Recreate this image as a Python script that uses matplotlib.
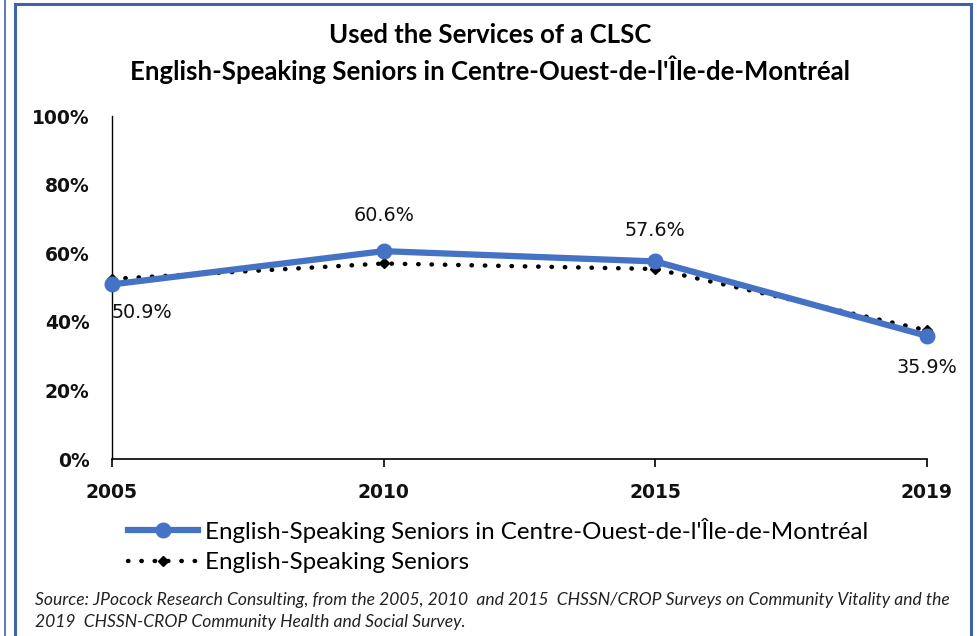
import matplotlib.pyplot as plt
from matplotlib.patches import Rectangle
from matplotlib.lines import Line2D
from matplotlib.ticker import PercentFormatter

plt.rcParams['font.family'] = ['Lato', 'DejaVu Sans']

years = ['2005', '2010', '2015', '2019']
montreal_co = [0.509, 0.606, 0.576, 0.359]
all_seniors = [0.525, 0.570, 0.554, 0.375]
label_montreal = "English-Speaking Seniors in Centre-Ouest-de-l'Île-de-Montréal"
label_all = 'English-Speaking Seniors'

fig = plt.figure(figsize=(9.77, 6.36), dpi=100)
ax = fig.add_axes([0.1146, 0.2783, 0.8342, 0.5393])

dots = (0, (0.1, 2.9))
x = list(range(len(years)))
ax.plot(x, all_seniors, color='black', linestyle=dots, linewidth=3.2,
        dash_capstyle='round', marker='D', markersize=5, clip_on=False, zorder=2)
ax.plot(x, montreal_co, color='#4472C4', linewidth=4.5, marker='o', markersize=10.5,
        clip_on=False, zorder=3)

# data labels (offsets in points)
offsets = [(0, -20, 'left'), (0, 26, 'center'), (0, 22, 'center'), (0, -23, 'center')]
for i, v in enumerate(montreal_co):
    dx, dy, ha = offsets[i]
    ax.annotate(f'{v*100:.1f}%', (x[i], v), xytext=(dx, dy), textcoords='offset points',
                ha=ha, va='center', fontsize=13.8, color='#111111', family='DejaVu Sans')

ax.set_xlim(0, 3)
ax.set_ylim(0, 1)
ax.set_xticks(x)
ax.set_xticklabels(years)
ax.set_yticks([0, 0.2, 0.4, 0.6, 0.8, 1.0])
ax.yaxis.set_major_formatter(PercentFormatter(1.0, decimals=0))
for lbl in ax.get_xticklabels() + ax.get_yticklabels():
    lbl.set_fontweight('bold')
    lbl.set_fontsize(13.5)
    lbl.set_family('DejaVu Sans')
    lbl.set_color('#111111')
ax.tick_params(axis='x', direction='out', length=6, width=1.2, pad=11)
ax.tick_params(axis='y', length=0, pad=16)
ax.spines['top'].set_visible(False)
ax.spines['right'].set_visible(False)
ax.spines['left'].set_linewidth(1)
ax.spines['bottom'].set_linewidth(1.2)

fig.text(0.502, 0.945, 'Used the Services of a CLSC', ha='center', va='center',
         fontsize=18.5, fontweight='bold')
fig.text(0.502, 0.890, label_montreal, ha='center', va='center',
         fontsize=18.5, fontweight='bold')

handles = [
    Line2D([], [], color='#4472C4', linewidth=4.5, marker='o', markersize=10.5),
    Line2D([], [], color='black', linestyle=dots, linewidth=3.2,
           dash_capstyle='round', marker='D', markersize=5),
]
fig.legend(handles, [label_montreal, label_all], loc='upper left',
           bbox_to_anchor=(0.131, 0.186), frameon=False,
           fontsize=17.4, handlelength=2.9, handletextpad=0.3, labelspacing=0.4,
           borderaxespad=0, borderpad=0)

fig.text(0.036, 0.057, 'Source: JPocock Research Consulting, from the 2005, 2010  and 2015  CHSSN/CROP Surveys on Community Vitality and the',
         fontsize=12.6, style='italic', color='#222222', va='center')
fig.text(0.036, 0.022, '2019  CHSSN-CROP Community Health and Social Survey.',
         fontsize=12.6, style='italic', color='#222222', va='center')

# frame
fig.patches.append(Rectangle((15 / 977, -0.05), (971 - 15) / 977, 1.05 - 4 / 636,
                             transform=fig.transFigure, fill=False,
                             edgecolor='#3F63A8', linewidth=2.2))
fig.lines.append(Line2D([5 / 977, 5 / 977], [0, 1], transform=fig.transFigure,
                        color='#3F63A8', linewidth=1.2))

fig.savefig('out.png', dpi=100)
